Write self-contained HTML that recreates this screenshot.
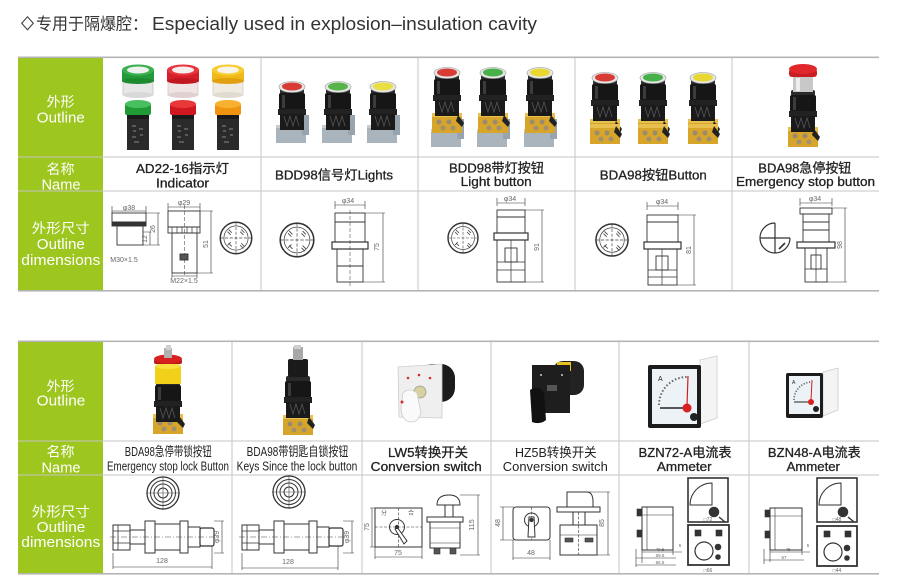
<!DOCTYPE html>
<html><head><meta charset="utf-8">
<style>
html,body{margin:0;padding:0;background:#fff;width:900px;height:582px;overflow:hidden}
svg{display:block}
text{font-family:"Liberation Sans","Noto Sans CJK SC",sans-serif}
</style></head><body>
<svg width="900" height="582" viewBox="0 0 900 582" xmlns="http://www.w3.org/2000/svg">
<defs>
 <g id="bbody">
  <rect x="-12" y="0" width="24" height="6" rx="2" fill="#2a2a2a"/>
  <rect x="-13" y="5" width="26" height="17" rx="2" fill="#161616"/>
  <rect x="-10" y="7" width="3" height="13" fill="#3c3c3c"/>
  <rect x="-14" y="21" width="28" height="6" fill="#222"/>
  <rect x="-12" y="26" width="24" height="16" fill="#1a1a1a"/>
  <path d="M-8,28 l3,10 l3,-10 l3,10 l3,-10 l3,10" stroke="#555" fill="none" stroke-width="0.8"/>
 </g>
 <g id="ybase">
  <rect x="-15" y="0" width="30" height="20" fill="#d7a52a"/>
  <rect x="-15" y="0" width="30" height="4" fill="#e8c050"/>
  <circle cx="-8" cy="9" r="2.5" fill="#9a8a70"/><circle cx="2" cy="9" r="2.5" fill="#9a8a70"/>
  <circle cx="-4" cy="15" r="2.5" fill="#a09070"/><circle cx="6" cy="15" r="2.5" fill="#a09070"/>
  <path d="M11,2 l6,8 l-2,4 l-6,-6z" fill="#222"/>
 </g>
 <g id="gbase">
  <rect x="-16" y="0" width="30" height="18" fill="#a9b4bc"/>
  <rect x="-16" y="0" width="30" height="3" fill="#c5ced4"/>
  <rect x="10" y="-10" width="7" height="20" fill="#98a4ad"/>
 </g>
 <g id="quad">
  <circle r="15" fill="none" stroke="#333" stroke-width="1.4"/>
  <circle r="11.5" fill="none" stroke="#444" stroke-width="0.7"/>
  <path d="M-15,0h30M0,-15v30" stroke="#444" stroke-width="0.6" stroke-dasharray="3,1.5"/>
  <path d="M-7,-8l3,3M-8,-6l3,3M5,-8l3,3M4,-6l3,3M-7,5l3,3M-8,7l3,-3M5,5l3,3M4,7l3,3" stroke="#444" stroke-width="0.8"/>
 </g>
 <g id="concentric">
  <circle r="16" fill="none" stroke="#333" stroke-width="1.3"/>
  <circle r="12.5" fill="none" stroke="#333" stroke-width="1"/>
  <circle r="9" fill="none" stroke="#333" stroke-width="1"/>
  <circle r="5" fill="none" stroke="#333" stroke-width="1"/>
  <path d="M-17,0h34M0,-17v34" stroke="#444" stroke-width="0.6"/>
 </g>
 <g id="sideview">
  <rect x="0" y="-12" width="17" height="25" fill="none" stroke="#333" stroke-width="1"/>
  <path d="M0,-6h17M0,6h17M5,-12v25" stroke="#333" stroke-width="0.8"/>
  <rect x="17" y="-7" width="15" height="14" fill="none" stroke="#333" stroke-width="1"/>
  <rect x="32" y="-16" width="10" height="32" fill="none" stroke="#333" stroke-width="1"/>
  <rect x="42" y="-13" width="25" height="26" fill="none" stroke="#333" stroke-width="1"/>
  <rect x="67" y="-16" width="8" height="32" fill="none" stroke="#333" stroke-width="1"/>
  <rect x="75" y="-10" width="12" height="20" fill="none" stroke="#333" stroke-width="1"/>
  <rect x="87" y="-9" width="14" height="18" rx="2" fill="none" stroke="#333" stroke-width="1.2"/>
  <path d="M-3,0h108" stroke="#444" stroke-width="0.6" stroke-dasharray="6,2,1,2"/>
 </g>
</defs>

<!-- header -->
<polygon points="27.5,16.8 33.3,23.3 27.5,29.8 21.7,23.3" fill="none" stroke="#444" stroke-width="1.1"/>
<text x="36" y="29.5" font-size="16.5" fill="#333" textLength="112" lengthAdjust="spacingAndGlyphs">专用于隔爆腔：</text>
<text x="152" y="30" font-size="18" fill="#333" textLength="385" lengthAdjust="spacingAndGlyphs">Especially used in explosion–insulation cavity</text>

<!-- TABLE 1 grid -->
<rect x="18" y="58" width="85" height="233" fill="#9dc61f"/>
<rect x="18" y="56.5" width="861" height="1.6" fill="#b4b4b4"/>
<rect x="18" y="156.5" width="861" height="1" fill="#c6c6c6"/>
<rect x="18" y="190.5" width="861" height="1" fill="#c6c6c6"/>
<rect x="18" y="290" width="861" height="1.6" fill="#b4b4b4"/>
<g fill="#c6c6c6">
 <rect x="260.5" y="58" width="1" height="232"/>
 <rect x="417.5" y="58" width="1" height="232"/>
 <rect x="574.5" y="58" width="1" height="232"/>
 <rect x="731.5" y="58" width="1" height="232"/>
</g>

<!-- TABLE 2 grid -->
<rect x="18" y="342" width="85" height="232" fill="#9dc61f"/>
<rect x="18" y="340.5" width="861" height="1.6" fill="#b4b4b4"/>
<rect x="18" y="440.5" width="861" height="1" fill="#c6c6c6"/>
<rect x="18" y="474.5" width="861" height="1" fill="#c6c6c6"/>
<rect x="18" y="573" width="861" height="1.6" fill="#b4b4b4"/>
<g fill="#c6c6c6">
 <rect x="231.5" y="342" width="1" height="231"/>
 <rect x="361.5" y="342" width="1" height="231"/>
 <rect x="490.5" y="342" width="1" height="231"/>
 <rect x="618.5" y="342" width="1" height="231"/>
 <rect x="748.5" y="342" width="1" height="231"/>
</g>

<!-- green labels -->
<g fill="#fff" font-size="15" text-anchor="middle">
 <text x="60.5" y="106.5" font-size="13.5" textLength="28" lengthAdjust="spacingAndGlyphs">外形</text>
 <text x="60.8" y="122.5" textLength="48" lengthAdjust="spacingAndGlyphs">Outline</text>
 <text x="60.5" y="174" font-size="13.5" textLength="28" lengthAdjust="spacingAndGlyphs">名称</text>
 <text x="61" y="189.5" textLength="39" lengthAdjust="spacingAndGlyphs">Name</text>
 <text x="60.8" y="233" font-size="13.5" textLength="58" lengthAdjust="spacingAndGlyphs">外形尺寸</text>
 <text x="60.8" y="249" textLength="48" lengthAdjust="spacingAndGlyphs">Outline</text>
 <text x="60.8" y="265" textLength="79" lengthAdjust="spacingAndGlyphs">dimensions</text>

 <text x="60.5" y="391" font-size="13.5" textLength="28" lengthAdjust="spacingAndGlyphs">外形</text>
 <text x="61" y="405.5" textLength="48.6" lengthAdjust="spacingAndGlyphs">Outline</text>
 <text x="60.5" y="456.5" font-size="13.5" textLength="28" lengthAdjust="spacingAndGlyphs">名称</text>
 <text x="61" y="472.5" textLength="39" lengthAdjust="spacingAndGlyphs">Name</text>
 <text x="60.8" y="516.5" font-size="13.5" textLength="58" lengthAdjust="spacingAndGlyphs">外形尺寸</text>
 <text x="61" y="532" textLength="48.6" lengthAdjust="spacingAndGlyphs">Outline</text>
 <text x="60.8" y="547" textLength="79" lengthAdjust="spacingAndGlyphs">dimensions</text>
</g>

<!-- names table 1 -->
<g font-size="13" fill="#222" text-anchor="middle" stroke="#222" stroke-width="0.3">
 <text x="182.5" y="173" textLength="93" lengthAdjust="spacingAndGlyphs">AD22-16指示灯</text>
 <text x="182.5" y="187.3" textLength="53" lengthAdjust="spacingAndGlyphs">Indicator</text>
 <text x="334" y="179.5" textLength="118" lengthAdjust="spacingAndGlyphs">BDD98信号灯Lights</text>
 <text x="496.5" y="172.7" textLength="95" lengthAdjust="spacingAndGlyphs">BDD98带灯按钮</text>
 <text x="496.2" y="186" textLength="71" lengthAdjust="spacingAndGlyphs">Light button</text>
 <text x="653.3" y="179.3" textLength="107" lengthAdjust="spacingAndGlyphs">BDA98按钮Button</text>
 <text x="804.8" y="172.7" textLength="93" lengthAdjust="spacingAndGlyphs">BDA98急停按钮</text>
 <text x="805.5" y="186" textLength="139" lengthAdjust="spacingAndGlyphs">Emergency stop button</text>
</g>

<!-- names table 2 -->
<g font-size="13" fill="#222" text-anchor="middle">
 <text x="168.3" y="456" textLength="87" lengthAdjust="spacingAndGlyphs">BDA98急停带锁按钮</text>
 <text x="168" y="470.5" textLength="122" lengthAdjust="spacingAndGlyphs">Emergency stop lock Button</text>
 <text x="297.5" y="456" textLength="101.7" lengthAdjust="spacingAndGlyphs">BDA98带钥匙自锁按钮</text>
 <text x="297" y="470.5" textLength="120.7" lengthAdjust="spacingAndGlyphs">Keys Since the lock button</text>
 <text x="555.8" y="457" textLength="81.7" lengthAdjust="spacingAndGlyphs">HZ5B转换开关</text>
 <text x="555.3" y="471" textLength="105" lengthAdjust="spacingAndGlyphs">Conversion switch</text>
</g>
<g font-size="13" fill="#222" text-anchor="middle" stroke="#222" stroke-width="0.3">
 <text x="428" y="457" textLength="80" lengthAdjust="spacingAndGlyphs">LW5转换开关</text>
 <text x="426.2" y="471" textLength="111" lengthAdjust="spacingAndGlyphs">Conversion switch</text>
 <text x="685" y="457" textLength="93" lengthAdjust="spacingAndGlyphs">BZN72-A电流表</text>
 <text x="684.3" y="471" textLength="54.7" lengthAdjust="spacingAndGlyphs">Ammeter</text>
 <text x="814.3" y="457" textLength="92.7" lengthAdjust="spacingAndGlyphs">BZN48-A电流表</text>
 <text x="813.3" y="471" textLength="53.3" lengthAdjust="spacingAndGlyphs">Ammeter</text>
</g>

<!-- ============ TABLE 1 IMAGES ============ -->
<g>
 <g transform="translate(138,0)">
  <rect x="-15" y="80" width="30" height="15" fill="#e6e6e6" stroke="#c4c4c4" stroke-width="0.8"/>
  <ellipse cx="0" cy="95" rx="15" ry="3" fill="#d8d8d8"/>
  <rect x="-16" y="70" width="32" height="11" fill="#249a3a"/>
  <ellipse cx="0" cy="81" rx="16" ry="3" fill="#1d8a30"/>
  <ellipse cx="0" cy="70" rx="16" ry="5.5" fill="#3cb050"/>
  <ellipse cx="0" cy="70" rx="11" ry="3.5" fill="#eef2ee"/>
 </g>
 <g transform="translate(183,0)">
  <rect x="-15" y="80" width="30" height="15" fill="#f0e4e4" stroke="#d4c4c4" stroke-width="0.8"/>
  <ellipse cx="0" cy="95" rx="15" ry="3" fill="#e0d0d0"/>
  <rect x="-16" y="70" width="32" height="11" fill="#d61f2a"/>
  <ellipse cx="0" cy="81" rx="16" ry="3" fill="#c01822"/>
  <ellipse cx="0" cy="70" rx="16" ry="5.5" fill="#e8363e"/>
  <ellipse cx="0" cy="70" rx="11" ry="3.5" fill="#f6eeee"/>
 </g>
 <g transform="translate(228,0)">
  <rect x="-15" y="80" width="30" height="15" fill="#f0ebe0" stroke="#d4ccc0" stroke-width="0.8"/>
  <ellipse cx="0" cy="95" rx="15" ry="3" fill="#e0dad0"/>
  <rect x="-16" y="70" width="32" height="11" fill="#f0b818"/>
  <ellipse cx="0" cy="81" rx="16" ry="3" fill="#e0a010"/>
  <ellipse cx="0" cy="70" rx="16" ry="5.5" fill="#f6cc30"/>
  <ellipse cx="0" cy="70" rx="11" ry="3.5" fill="#f8f4ea"/>
 </g>
 <g transform="translate(138,0)">
  <rect x="-11" y="114" width="22" height="36" fill="#2a2a2a"/>
  <rect x="-11" y="114" width="22" height="5" fill="#1a1a1a"/>
  <path d="M-6,126h4M-5,131h3M1,129h4M-6,137h4M2,135h3M-4,142h5" stroke="#888" stroke-width="1"/>
  <rect x="-13" y="104" width="26" height="11" rx="2" fill="#1f9a34"/>
  <ellipse cx="0" cy="104" rx="13" ry="4" fill="#48c060"/>
 </g>
 <g transform="translate(183,0)">
  <rect x="-11" y="114" width="22" height="36" fill="#2a2a2a"/>
  <rect x="-11" y="114" width="22" height="5" fill="#1a1a1a"/>
  <path d="M-6,126h4M-5,131h3M1,129h4M-6,137h4M2,135h3M-4,142h5" stroke="#888" stroke-width="1"/>
  <rect x="-13" y="104" width="26" height="11" rx="2" fill="#d01820"/>
  <ellipse cx="0" cy="104" rx="13" ry="4" fill="#e83838"/>
 </g>
 <g transform="translate(228,0)">
  <rect x="-11" y="114" width="22" height="36" fill="#2a2a2a"/>
  <rect x="-11" y="114" width="22" height="5" fill="#1a1a1a"/>
  <path d="M-6,126h4M-5,131h3M1,129h4M-6,137h4M2,135h3M-4,142h5" stroke="#888" stroke-width="1"/>
  <rect x="-13" y="104" width="26" height="11" rx="2" fill="#f09410"/>
  <ellipse cx="0" cy="104" rx="13" ry="4" fill="#f8b030"/>
 </g>
</g>

<!-- BDD98 lights -->
<g>
 <use href="#gbase" x="292" y="125"/>
 <use href="#bbody" x="292" y="88"/>
 <ellipse cx="292" cy="87" rx="13" ry="5.5" fill="#e6e6e6" stroke="#999" stroke-width="0.6"/>
 <ellipse cx="292" cy="86.5" rx="10" ry="4" fill="#d83a34"/>
 <use href="#gbase" x="338" y="125"/>
 <use href="#bbody" x="338" y="88"/>
 <ellipse cx="338" cy="87" rx="13" ry="5.5" fill="#e6e6e6" stroke="#999" stroke-width="0.6"/>
 <ellipse cx="338" cy="86.5" rx="10" ry="4" fill="#58b448"/>
 <use href="#gbase" x="383" y="125"/>
 <use href="#bbody" x="383" y="88"/>
 <ellipse cx="383" cy="87" rx="13" ry="5.5" fill="#e6e6e6" stroke="#999" stroke-width="0.6"/>
 <ellipse cx="383" cy="86.5" rx="10" ry="4" fill="#e8e040"/>
</g>

<!-- BDD98 light buttons -->
<g>
 <use href="#gbase" x="447" y="129"/>
 <use href="#ybase" x="447" y="113"/>
 <use href="#bbody" x="447" y="74"/>
 <ellipse cx="447" cy="73" rx="13" ry="5.5" fill="#e6e6e6" stroke="#999" stroke-width="0.6"/>
 <ellipse cx="447" cy="72.5" rx="10" ry="4" fill="#d83a34"/>
 <use href="#gbase" x="493" y="129"/>
 <use href="#ybase" x="493" y="113"/>
 <use href="#bbody" x="493" y="74"/>
 <ellipse cx="493" cy="73" rx="13" ry="5.5" fill="#e6e6e6" stroke="#999" stroke-width="0.6"/>
 <ellipse cx="493" cy="72.5" rx="10" ry="4" fill="#48b048"/>
 <use href="#gbase" x="540" y="129"/>
 <use href="#ybase" x="540" y="113"/>
 <use href="#bbody" x="540" y="74"/>
 <ellipse cx="540" cy="73" rx="13" ry="5.5" fill="#e6e6e6" stroke="#999" stroke-width="0.6"/>
 <ellipse cx="540" cy="72.5" rx="10" ry="4" fill="#e8d830"/>
</g>

<!-- BDA98 buttons -->
<g>
 <use href="#ybase" x="605" y="119"/>
 <use href="#ybase" x="605" y="124"/>
 <use href="#bbody" x="605" y="79"/>
 <ellipse cx="605" cy="78" rx="13" ry="5.5" fill="#e6e6e6" stroke="#999" stroke-width="0.6"/>
 <ellipse cx="605" cy="77.5" rx="10" ry="4" fill="#d83a34"/>
 <use href="#ybase" x="653" y="119"/>
 <use href="#ybase" x="653" y="124"/>
 <use href="#bbody" x="653" y="79"/>
 <ellipse cx="653" cy="78" rx="13" ry="5.5" fill="#e6e6e6" stroke="#999" stroke-width="0.6"/>
 <ellipse cx="653" cy="77.5" rx="10" ry="4" fill="#48b048"/>
 <use href="#ybase" x="703" y="119"/>
 <use href="#ybase" x="703" y="124"/>
 <use href="#bbody" x="703" y="79"/>
 <ellipse cx="703" cy="78" rx="13" ry="5.5" fill="#e6e6e6" stroke="#999" stroke-width="0.6"/>
 <ellipse cx="703" cy="77.5" rx="10" ry="4" fill="#e8d830"/>
</g>

<!-- Emergency stop -->
<g>
 <use href="#ybase" x="803" y="127"/>
 <use href="#bbody" x="803" y="90"/>
 <rect x="-10" y="0" width="20" height="15" fill="#c8c8c8" transform="translate(803,77)"/>
 <rect x="796" y="78" width="4" height="13" fill="#eee"/>
 <rect x="789" y="69" width="28" height="8" rx="3" fill="#c81e22"/>
 <ellipse cx="803" cy="69" rx="14" ry="5" fill="#e0282c"/>
</g>

<!-- ============ TABLE 1 DRAWINGS ============ -->
<g fill="none" stroke="#333" stroke-width="0.9">
 <path d="M112,206v8M146,206v8M112,211h34" stroke-width="0.6"/>
 <rect x="112" y="213" width="34" height="9"/>
 <rect x="112" y="222" width="34" height="4" fill="#333"/>
 <rect x="117" y="226" width="26" height="19"/>
 <path d="M146,213h14M143,245h17M158,213v32M143,232h8M150,232v13" stroke-width="0.6"/>
 <path d="M168,203v8M200,203v8M168,207h32" stroke-width="0.6"/>
 <rect x="168" y="211" width="32" height="16"/>
 <rect x="168" y="227" width="32" height="6"/>
 <path d="M172,227v6M177,227v6M182,227v6M187,227v6M192,227v6M197,227v6" stroke-width="0.7"/>
 <rect x="172" y="233" width="25" height="40"/>
 <path d="M184.5,205v72" stroke-width="0.5" stroke-dasharray="4,2"/>
 <rect x="180" y="254" width="8" height="6" fill="#555"/>
 <path d="M200,211h13M197,273h16M211,211v62M172,276h25M172,273v5M197,273v5" stroke-width="0.6"/>
 <use href="#quad" transform="translate(236,238) scale(1.05)"/>
 <use href="#quad" transform="translate(297,240) scale(1.12)"/>
 <path d="M335,201v8M365,201v8M335,205h30" stroke-width="0.6"/>
 <rect x="335" y="213" width="30" height="29"/>
 <path d="M335,222h30"/>
 <rect x="332" y="242" width="36" height="7" stroke-width="1.2"/>
 <rect x="337" y="249" width="26" height="33"/>
 <path d="M337,266h26"/>
 <path d="M350,210v76" stroke-width="0.5" stroke-dasharray="4,2"/>
 <path d="M365,213h20M363,282h22M383,213v69" stroke-width="0.6"/>
 <use href="#quad" transform="translate(463,238)"/>
 <path d="M497,198v8M525,198v8M497,203h28" stroke-width="0.6"/>
 <rect x="497" y="210" width="28" height="23"/>
 <path d="M497,217h28"/>
 <rect x="494" y="233" width="34" height="7" stroke-width="1.2"/>
 <rect x="497" y="240" width="28" height="42"/>
 <rect x="505" y="248" width="12" height="14"/>
 <path d="M497,262h28M497,270h28M511,240v42" stroke-width="0.7"/>
 <path d="M525,210h19M525,282h19M542,210v72" stroke-width="0.6"/>
 <use href="#quad" transform="translate(612,240) scale(1.07)"/>
 <path d="M647,202v8M678,202v8M647,206h31" stroke-width="0.6"/>
 <rect x="647" y="215" width="31" height="27"/>
 <path d="M647,222h31"/>
 <rect x="644" y="242" width="37" height="7" stroke-width="1.2"/>
 <rect x="648" y="249" width="29" height="36"/>
 <rect x="656" y="256" width="12" height="14"/>
 <path d="M648,270h29M648,277h29M662,249v36" stroke-width="0.7"/>
 <path d="M678,215h18M677,285h19M694,215v70" stroke-width="0.6"/>
 <path d="M775,223 A15,15 0 1,0 790,238 M775,223v30M760,238h30" stroke-width="1.2"/>
 <path d="M779,249l6,-6" stroke-width="1.6"/>
 <path d="M800,198v8M832,198v8M800,203h32" stroke-width="0.6"/>
 <rect x="800" y="208" width="32" height="6"/>
 <rect x="803" y="214" width="26" height="28"/>
 <path d="M803,222h26M803,230h26"/>
 <rect x="797" y="242" width="38" height="6" stroke-width="1.2"/>
 <rect x="805" y="248" width="22" height="34"/>
 <rect x="811" y="255" width="10" height="14"/>
 <path d="M805,269h22M816,248v34" stroke-width="0.7"/>
 <path d="M832,208h15M827,282h20M845,208v74" stroke-width="0.6"/>
</g>
<g font-size="7" fill="#666" text-anchor="middle">
 <text x="129" y="210">φ38</text>
 <text x="184" y="205">φ29</text>
 <text x="348" y="203">φ34</text>
 <text x="510" y="201">φ34</text>
 <text x="662" y="204">φ34</text>
 <text x="815" y="201">φ34</text>
 <text x="124" y="262">M30×1.5</text>
 <text x="184" y="283">M22×1.5</text>
 <text transform="translate(155,229) rotate(-90)">26</text>
 <text transform="translate(147,239) rotate(-90)">12</text>
 <text transform="translate(208,244) rotate(-90)">51</text>
 <text transform="translate(379,247) rotate(-90)">75</text>
 <text transform="translate(539,247) rotate(-90)">91</text>
 <text transform="translate(691,250) rotate(-90)">81</text>
 <text transform="translate(842,245) rotate(-90)">98</text>
</g>

<!-- ============ TABLE 2 IMAGES ============ -->
<g>
 <use href="#ybase" x="168" y="414"/>
 <use href="#bbody" x="168" y="380"/>
 <rect x="155" y="366" width="26" height="18" fill="#f0d018"/>
 <ellipse cx="168" cy="366" rx="13" ry="3" fill="#f8e040"/>
 <rect x="154" y="359" width="28" height="5" rx="2" fill="#b81818"/>
 <ellipse cx="168" cy="359" rx="14" ry="4.5" fill="#d82020"/>
 <rect x="164" y="348" width="8" height="10" fill="#b0b0b0"/>
 <rect x="166" y="345" width="5" height="5" fill="#d0d0d0"/>
</g>
<g>
 <use href="#ybase" x="298" y="415"/>
 <use href="#bbody" x="298" y="376"/>
 <rect x="288" y="359" width="20" height="18" rx="2" fill="#1a1a1a"/>
 <rect x="293" y="347" width="10" height="13" fill="#a8a8a8"/>
 <rect x="294" y="345" width="7" height="4" fill="#cfcfcf"/>
</g>
<g>
 <rect x="418" y="364" width="37" height="38" rx="14" fill="#1c1c1c"/>
 <polygon points="398,367 442,364 442,418 399,417" fill="#efefef" stroke="#ccc" stroke-width="0.8"/>
 <circle cx="408" cy="378" r="1.3" fill="#d03030"/><circle cx="419" cy="375" r="1.3" fill="#d03030"/><circle cx="430" cy="378" r="1.3" fill="#d03030"/>
 <circle cx="420" cy="392" r="6" fill="#d8d0a0" stroke="#999" stroke-width="0.8"/>
 <path d="M403,393 q6,-6 14,0 l4,20 q-4,12 -14,8 q-6,-4 -6,-14z" fill="#fafafa" stroke="#ccc" stroke-width="0.8"/>
 <circle cx="402" cy="402" r="1.5" fill="#d03030"/>
</g>
<g>
 <rect x="553" y="361" width="31" height="34" rx="10" fill="#222"/>
 <rect x="557" y="362" width="14" height="9" fill="#e8c020"/>
 <rect x="532" y="365" width="38" height="48" fill="#1e1e1e"/>
 <circle cx="541" cy="375" r="1" fill="#ccc"/><circle cx="562" cy="375" r="1" fill="#ccc"/>
 <rect x="547" y="385" width="10" height="6" fill="#555"/>
 <path d="M530,390 q8,-5 14,2 l2,28 q-6,5 -14,2z" fill="#111"/>
</g>
<g>
 <polygon points="700,360 717,356 717,418 700,424" fill="#f4f4f4" stroke="#ccc" stroke-width="0.8"/>
 <rect x="648" y="365" width="53" height="63" rx="2" fill="#1c1c1c"/>
 <rect x="652" y="369" width="45" height="55" fill="#edf2f6"/>
 <text x="658" y="381" font-size="7" fill="#222">A</text>
 <path d="M659,405 A28,28 0 0,1 687,377" fill="none" stroke="#666" stroke-width="2" stroke-dasharray="1.5,2"/>
 <path d="M660,408h26" stroke="#222" stroke-width="1.4"/>
 <path d="M687,406 L688,376" stroke="#d02020" stroke-width="1.2"/>
 <circle cx="687" cy="408" r="4.5" fill="#d82020"/>
 <circle cx="694" cy="417" r="4" fill="#222"/>
</g>
<g>
 <polygon points="823,372 838,368 838,410 823,416" fill="#f4f4f4" stroke="#ccc" stroke-width="0.8"/>
 <rect x="786" y="373" width="37" height="45" rx="2" fill="#1c1c1c"/>
 <rect x="789" y="376" width="31" height="38" fill="#edf2f6"/>
 <text x="792" y="384" font-size="5" fill="#222">A</text>
 <path d="M794,400 A18,18 0 0,1 812,382" fill="none" stroke="#666" stroke-width="1.6" stroke-dasharray="1.2,1.6"/>
 <path d="M794,402h18" stroke="#222" stroke-width="1"/>
 <path d="M811,400 L812,380" stroke="#d02020" stroke-width="1"/>
 <circle cx="811" cy="402" r="3" fill="#d82020"/>
 <circle cx="816" cy="409" r="3" fill="#222"/>
</g>

<!-- ============ TABLE 2 DRAWINGS ============ -->
<use href="#concentric" x="163" y="493"/>
<use href="#sideview" x="113" y="537"/>
<use href="#concentric" x="289" y="492"/>
<use href="#sideview" x="242" y="537"/>
<g fill="none" stroke="#333" stroke-width="0.6">
 <path d="M113,553v16M212,546v23M113,567h99M214,521h10M214,553h10M222,521v32"/>
 <path d="M242,553v17M338,546v24M242,568h96M343,521h11M343,553h11M352,521v32"/>
 <rect x="375" y="508" width="47" height="39" stroke-width="1"/>
 <path d="M375,527h47M398.5,508v39" stroke-dasharray="3,1.5"/>
 <circle cx="397" cy="527" r="7.5" stroke-width="1"/>
 <path d="M397,527 l10,14 l-3,3 l-9,-15z" stroke-width="1" fill="#fff"/>
 <circle cx="397" cy="527" r="1.8" fill="#333"/>
 <path d="M370,508h6M370,547h6M372,508v39M375,547v12M422,547v12M375,557h47"/>
 <path d="M437,505 q0,-10 12,-10 q11,0 11,10z" stroke-width="1"/>
 <rect x="445" y="505" width="8" height="12" stroke-width="1"/>
 <rect x="427" y="517" width="36" height="5" stroke-width="1"/>
 <rect x="430" y="522" width="30" height="26" stroke-width="1"/>
 <path d="M430,528h30M430,543h30"/>
 <rect x="434" y="548" width="6" height="6" fill="#555"/>
 <rect x="450" y="548" width="6" height="6" fill="#555"/>
 <path d="M460,495h20M460,555h20M478,495v60"/>
 <rect x="513" y="507" width="37" height="33" rx="3" stroke-width="1"/>
 <path d="M531.5,507v33" stroke-dasharray="3,1.5"/>
 <circle cx="531.5" cy="520" r="7" stroke-width="1"/>
 <path d="M529,517 h5 l1,20 h-7z" fill="#fff" stroke-width="1"/>
 <circle cx="531.5" cy="520" r="1.8" fill="#333"/>
 <path d="M500,507h14M500,540h14M503,507v33M513,540v20M550,540v20M513,558h37"/>
 <path d="M567,507 v-15 h20 q6,0 6,10 v5z" stroke-width="1"/>
 <rect x="557" y="507" width="43" height="5" stroke-width="1"/>
 <path d="M573,512v13M585,512v13" stroke-width="1"/>
 <rect x="560" y="525" width="37" height="30" stroke-width="1"/>
 <path d="M578.5,512v43" stroke-dasharray="3,1.5"/>
 <path d="M560,535h37"/>
 <rect x="565" y="538" width="8" height="4" fill="#555"/>
 <rect x="585" y="538" width="8" height="4" fill="#555"/>
 <path d="M587,492h23M597,555h13M608,492v63"/>
 <rect x="642" y="507" width="31" height="43" stroke-width="1"/>
 <path d="M647,507v43M642,515h31"/>
 <rect x="637" y="509" width="5" height="7" fill="#333"/>
 <rect x="637" y="530" width="5" height="7" fill="#333"/>
 <path d="M636,549v18M642,550v13M673,550v5M642,552h40M636,558h40M636,565h40"/>
 <rect x="688" y="478" width="40" height="44" stroke-width="1.6"/>
 <path d="M690,505 A22,22 0 0,1 712,483 v22z" stroke-width="1"/>
 <circle cx="714" cy="512" r="5" fill="#333"/>
 <path d="M719,517 l6,5" stroke-width="1.4"/>
 <rect x="688" y="525" width="41" height="40" stroke-width="1.8"/>
 <circle cx="704" cy="551" r="9" stroke-width="1.2"/>
 <rect x="695" y="530" width="6" height="6" fill="#333"/>
 <rect x="716" y="530" width="6" height="6" fill="#333"/>
 <circle cx="718" cy="547" r="3" fill="#333"/>
 <circle cx="718" cy="557" r="2.5" fill="#333"/>
 <rect x="770" y="508" width="32" height="42" stroke-width="1"/>
 <path d="M775,508v42M770,516h32"/>
 <rect x="765" y="510" width="5" height="7" fill="#333"/>
 <rect x="765" y="531" width="5" height="7" fill="#333"/>
 <path d="M764,549v15M770,550v12M802,550v5M770,552h40M764,560h40"/>
 <rect x="817" y="478" width="40" height="44" stroke-width="1.6"/>
 <path d="M819,505 A22,22 0 0,1 841,483 v22z" stroke-width="1"/>
 <circle cx="843" cy="512" r="5" fill="#333"/>
 <path d="M848,517 l6,5" stroke-width="1.4"/>
 <rect x="817" y="526" width="40" height="40" stroke-width="1.8"/>
 <circle cx="833" cy="552" r="9" stroke-width="1.2"/>
 <rect x="824" y="531" width="6" height="6" fill="#333"/>
 <rect x="845" y="531" width="6" height="6" fill="#333"/>
 <circle cx="847" cy="548" r="3" fill="#333"/>
 <circle cx="847" cy="558" r="2.5" fill="#333"/>
</g>
<g font-size="7" fill="#666" text-anchor="middle">
 <text x="162" y="563">128</text>
 <text x="288" y="564">128</text>
 <text transform="translate(219,537) rotate(-90)">φ39</text>
 <text transform="translate(349,537) rotate(-90)">φ39</text>
 <text x="398" y="555">75</text>
 <text transform="translate(369,527) rotate(-90)">75</text>
 <text transform="translate(474,525) rotate(-90)">115</text>
 <text x="531" y="555">48</text>
 <text transform="translate(500,523) rotate(-90)">48</text>
 <text transform="translate(604,523) rotate(-90)">85</text>
 <text x="384" y="515" font-size="6">分</text>
 <text x="411" y="515" font-size="6">合</text>
 <text x="708" y="521" font-size="5">□72</text>
 <text x="708" y="572" font-size="5">□66</text>
 <text x="837" y="521" font-size="5">□48</text>
 <text x="837" y="572" font-size="5">□44</text>
 <text x="660" y="551" font-size="4.5">49.5</text>
 <text x="660" y="557" font-size="4.5">59.5</text>
 <text x="660" y="564" font-size="4.5">66.5</text>
 <text x="680" y="547" font-size="4.5">5</text>
 <text x="788" y="551" font-size="4.5">45</text>
 <text x="784" y="559" font-size="4.5">57</text>
 <text x="808" y="547" font-size="4.5">5</text>
</g>
</svg>
</body></html>
